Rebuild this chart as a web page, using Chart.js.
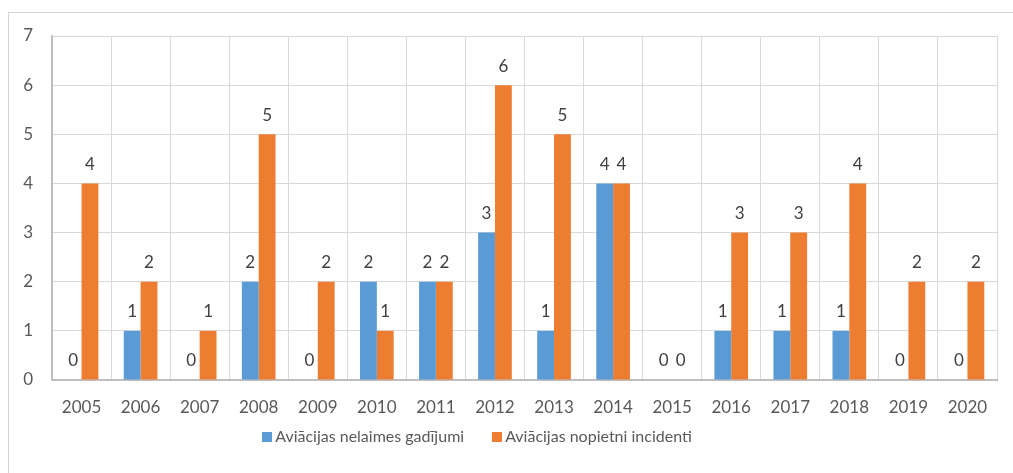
<!DOCTYPE html>
<html lang="lv">
<head>
    <meta charset="UTF-8">
    <title>Aviācijas nelaimes gadījumi un nopietni incidenti</title>
    <script src="https://cdn.jsdelivr.net/npm/chart.js@4.4.1/dist/chart.umd.min.js"></script>
    <style>
        body { margin: 0; background: #fff; }
        #wrap { position: relative; width: 1013px; height: 473px; overflow: hidden; }
        #frame { position: absolute; left: 8px; top: 12px; width: 1100px; height: 500px; border: 1px solid #d4d4d4; }
        #myChart { position: absolute; left: 0; top: 0; }
        #legend { position: absolute; left: 0; top: 426px; width: 954px; text-align: center;
                  font: 16px Lato, sans-serif; color: #595959; }
        #legend span.item { margin: 0 14px; white-space: nowrap; }
        #legend span.box { display: inline-block; width: 10px; height: 10px; margin-right: 3px; }
    </style>
</head>
<body>
<div id="wrap">
    <div id="frame"></div>
    <canvas id="myChart" width="1013" height="473"></canvas>
    <div id="legend"></div>
</div>

<script>
    // data
    const years = ['2005', '2006', '2007', '2008', '2009', '2010', '2011', '2012',
                   '2013', '2014', '2015', '2016', '2017', '2018', '2019', '2020'];
    const accidents = [0, 1, 0, 2, 0, 2, 2, 3, 1, 4, 0, 1, 1, 1, 0, 0];
    const incidents = [4, 2, 1, 5, 2, 1, 2, 6, 5, 4, 0, 3, 3, 4, 2, 2];
    const yTicks = [0, 1, 2, 3, 4, 5, 6, 7];

    // numbers above the bars (zeros too)
    const valueLabels = {
        id: 'valueLabels',
        afterDatasetsDraw(chart) {
            const ctx = chart.ctx;
            ctx.save();
            ctx.font = '17px Lato, sans-serif';
            ctx.fillStyle = '#404040';
            ctx.textAlign = 'center';
            ctx.textBaseline = 'middle';
            chart.data.datasets.forEach((ds, i) => {
                chart.getDatasetMeta(i).data.forEach((bar, j) => {
                    ctx.fillText(ds.data[j], bar.x, bar.y - 19);
                });
            });
            ctx.restore();
        }
    };

    const ctx = document.getElementById('myChart').getContext('2d');
    const myChart = new Chart(ctx, {
        type: 'bar',
        data: {
            labels: years,
            datasets: [
                {
                    label: 'Aviācijas nelaimes gadījumi',
                    data: accidents,
                    backgroundColor: '#5B9BD5',
                    categoryPercentage: 0.57,
                    barPercentage: 1
                },
                {
                    label: 'Aviācijas nopietni incidenti',
                    data: incidents,
                    backgroundColor: '#ED7D31',
                    categoryPercentage: 0.57,
                    barPercentage: 1
                }
            ]
        },
        options: {
            responsive: false,
            animation: false,
            layout: { padding: { left: 0, top: 36, right: 16, bottom: 0 } },
            plugins: {
                legend: { display: false },
                tooltip: { enabled: false }
            },
            scales: {
                x: {
                    grid: { color: '#d9d9d9', drawTicks: false },
                    border: { color: '#bfbfbf', width: 2 },
                    ticks: { color: '#595959', font: { family: 'Lato', size: 17 }, padding: 17 },
                    afterFit(scale) { scale.height = 93; }
                },
                y: {
                    min: 0,
                    max: 7,
                    grid: { color: '#d9d9d9', drawTicks: false },
                    border: { color: '#bfbfbf', width: 2 },
                    afterBuildTicks(scale) { scale.ticks = yTicks.map(v => ({ value: v })); },
                    ticks: { color: '#595959', font: { family: 'Lato', size: 17 }, padding: 19 },
                    afterFit(scale) { scale.width = 52; }
                }
            }
        },
        plugins: [valueLabels]
    });

    // html legend built from the datasets
    document.getElementById('legend').innerHTML = myChart.data.datasets.map(ds =>
        '<span class="item"><span class="box" style="background:' + ds.backgroundColor + '"></span>' + ds.label + '</span>'
    ).join('');
</script>
</body>
</html>
